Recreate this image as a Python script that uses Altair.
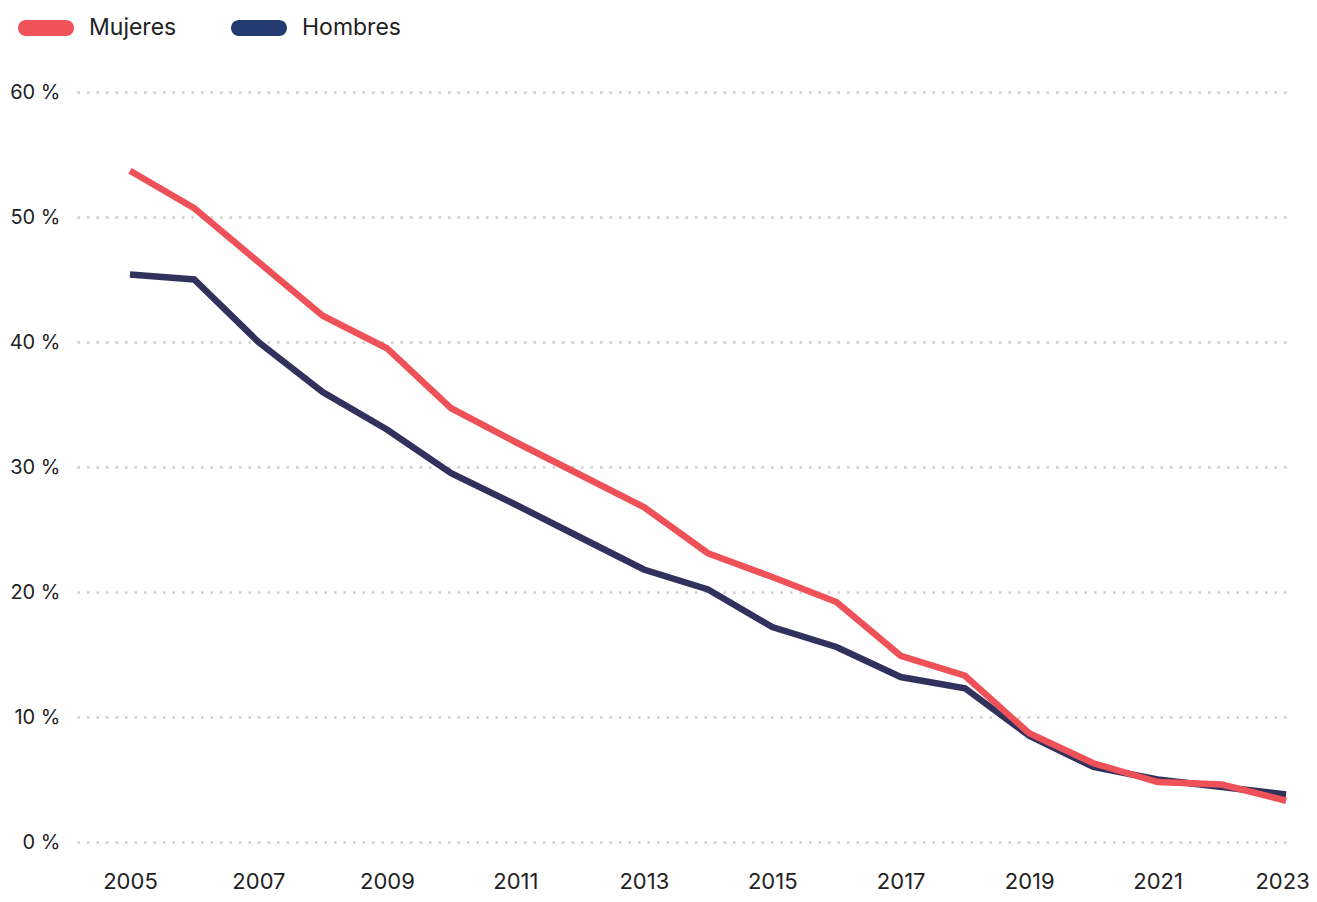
import altair as alt
import pandas as pd

years = list(range(2005, 2024))
mujeres = [53.7, 50.7, 46.4, 42.1, 39.5, 34.7, 32.0, 29.4, 26.8, 23.1, 21.2, 19.2, 14.9, 13.3, 8.7, 6.3, 4.8, 4.6, 3.3]
hombres = [45.4, 45.0, 40.0, 36.0, 33.0, 29.5, 27.0, 24.4, 21.8, 20.2, 17.2, 15.6, 13.2, 12.3, 8.5, 6.0, 5.0, 4.4, 3.8]
series_names = ["Mujeres", "Hombres"]
line_colors = ["#ee5157", "#30315d"]
legend_colors = ["#ef5258", "#233a70"]
x_ticks = [2005, 2007, 2009, 2011, 2013, 2015, 2017, 2019, 2021, 2023]
y_ticks = [0, 10, 20, 30, 40, 50, 60]

df = pd.DataFrame({
    "year": years + years,
    "value": mujeres + hombres,
    "serie": ["Mujeres"] * len(years) + ["Hombres"] * len(years),
})

pill = ("M-0.714,-0.286L0.714,-0.286A0.286,0.286 0 0 1 0.714,0.286"
        "L-0.714,0.286A0.286,0.286 0 0 1 -0.714,-0.286Z")

legend = alt.Legend(
    title=None,
    orient="none",
    legendX=-59,
    legendY=-92,
    direction="horizontal",
    symbolType=pill,
    symbolSize=3136,
    symbolStrokeWidth=0,
    symbolOpacity=1,
    labelFont="Inter",
    labelFontSize=23,
    labelColor="#222222",
    labelOffset=15,
    columnPadding=54,
    padding=0,
)

x_enc = alt.X(
    "year:Q",
    scale=alt.Scale(domain=[2004.175, 2023.03], nice=False, zero=False),
    axis=alt.Axis(
        values=x_ticks, format="d", title=None, grid=False, ticks=False,
        domain=False, labelFont="Inter", labelFontSize=22,
        labelColor="#222222", labelPadding=29, labelFlush=False,
        labelOffset={"condition": {"test": "datum.value == 2023", "value": -4}, "value": 0},
    ),
)
y_enc = alt.Y(
    "value:Q",
    scale=alt.Scale(domain=[0, 60], nice=False),
    axis=alt.Axis(
        values=y_ticks, title=None, ticks=False, domain=False,
        labelExpr="datum.value + ' %'", labelFont="Inter", labelFontSize=20,
        labelColor="#222222", labelPadding=17, grid=True,
        gridDash=[2.5, 7], gridWidth=2.5, gridColor="#cfcfcf",
    ),
)

base = alt.Chart(df).mark_line(strokeWidth=6.5).encode(
    x=x_enc,
    y=y_enc,
    color=alt.Color(
        "serie:N",
        scale=alt.Scale(domain=series_names, range=line_colors),
        legend=None,
    ),
)

legend_layer = alt.Chart(df).transform_filter("false").mark_point(
    filled=True, opacity=1, strokeWidth=0
).encode(
    x=alt.X("year:Q"),
    y=alt.Y("value:Q"),
    color=alt.Color(
        "serie:N",
        scale=alt.Scale(domain=series_names, range=legend_colors),
        legend=legend,
    ),
)

chart = alt.layer(
    base.transform_filter("datum.serie == 'Hombres'"),
    base.transform_filter("datum.serie == 'Mujeres'"),
    legend_layer,
).resolve_scale(color="independent").properties(
    width=1211,
    height=750,
    autosize=alt.AutoSizeParams(type="none"),
    padding={"left": 69, "top": 84, "right": 21, "bottom": 52},
).configure_view(stroke=None)

chart.save("out.html", embed_options={"renderer": "svg", "actions": False})
